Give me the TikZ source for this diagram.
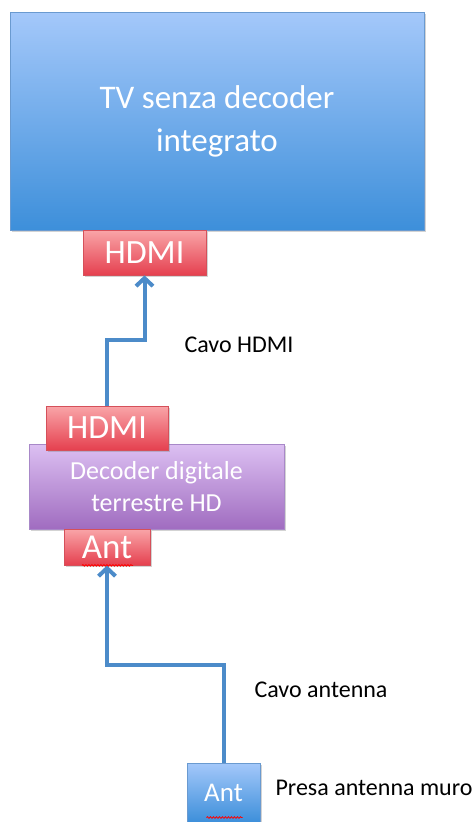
\documentclass[tikz,border=0pt]{standalone}
\usepackage{fontspec}
\setmainfont{Carlito}
\usetikzlibrary{arrows.meta, shadows, decorations.pathmorphing}

\definecolor{tvtop}{HTML}{A4C8FA}
\definecolor{tvbot}{HTML}{3D8FDA}
\definecolor{tvline}{HTML}{6A9AD0}
\definecolor{redtop}{HTML}{F9A5A8}
\definecolor{redbot}{HTML}{E5404F}
\definecolor{redline}{HTML}{D5505A}
\definecolor{purtop}{HTML}{DCC0F2}
\definecolor{purbot}{HTML}{A06CC0}
\definecolor{purline}{HTML}{A888C8}
\definecolor{cablecol}{HTML}{4C8BC9}

\begin{document}
\begin{tikzpicture}[
            x = 1pt, y = -1pt, % pixel units, y grows down
            > = {Straight Barb[length=8pt, width=17pt]}, % open arrow head
            semithick % line style
        ]

        \tikzstyle{box}=[
            draw,
            line width = 0.8pt,
            inner sep = 0pt,
            align = center,
            text = white,
            drop shadow = {opacity=0.35, shadow xshift=1.5pt, shadow yshift=-2pt}
        ]
        \tikzstyle{tvbox}=[box, draw = tvline, top color = tvtop, bottom color = tvbot]
        \tikzstyle{port}=[box, draw = redline, top color = redtop, bottom color = redbot]
        \tikzstyle{decbox}=[box, draw = purline, top color = purtop, bottom color = purbot]
        \tikzstyle{cable}=[->, draw = cablecol, line width = 4pt]
        \tikzstyle{label}=[font = \fontsize{24}{28}\selectfont, text = black]
        \tikzstyle{squiggle}=[draw = red, line width = 0.8pt,
            decorate, decoration = {snake, amplitude = 0.8pt, segment length = 3pt}]

        \useasboundingbox (0,0) rectangle (476,822);

        \node[tvbox, minimum width = 414, minimum height = 218,
              font = \fontsize{33}{43}\selectfont] (tv) at (217,121)
              {TV senza decoder\\integrato};
        \node[port, minimum width = 123, minimum height = 45,
              font = \fontsize{34}{40}\selectfont] (tvhdmi) at (144.5,252.5) {HDMI};

        \node[decbox, minimum width = 255, minimum height = 85,
              font = \fontsize{26}{32}\selectfont] (dec) at (156.5,486.5)
              {Decoder digitale\\terrestre HD};
        \node[port, minimum width = 122, minimum height = 44,
              font = \fontsize{34}{40}\selectfont] (dhdmi) at (107,428) {HDMI};
        \node[port, minimum width = 86, minimum height = 36,
              font = \fontsize{35}{40}\selectfont] (dant) at (107,547) {Ant};

        \node[tvbox, minimum width = 73, minimum height = 59,
              font = \fontsize{27}{30}\selectfont] (wallant) at (223.5,792.5) {Ant};

        \node[label] (lhdmi) at (239,345) {Cavo HDMI};
        \node[label] (lant) at (321,690) {Cavo antenna};
        \node[label] (lwall) at (374,788) {Presa antenna muro};

        \coordinate (bend1) at (0,340);
        \coordinate (bend2) at (0,665);

        \draw[cable] (dhdmi.north) |- (tvhdmi.south |- bend1) -- (tvhdmi.south);
        \draw[cable] (wallant.north) |- (dant.south |- bend2) -- (dant.south);

        \draw[squiggle] ([xshift=-25]dant.south) -- ([xshift=26]dant.south);
        \draw[squiggle] ([xshift=-17,yshift=-25]wallant.center) -- ([xshift=19,yshift=-25]wallant.center);

  \end{tikzpicture}
\end{document}
